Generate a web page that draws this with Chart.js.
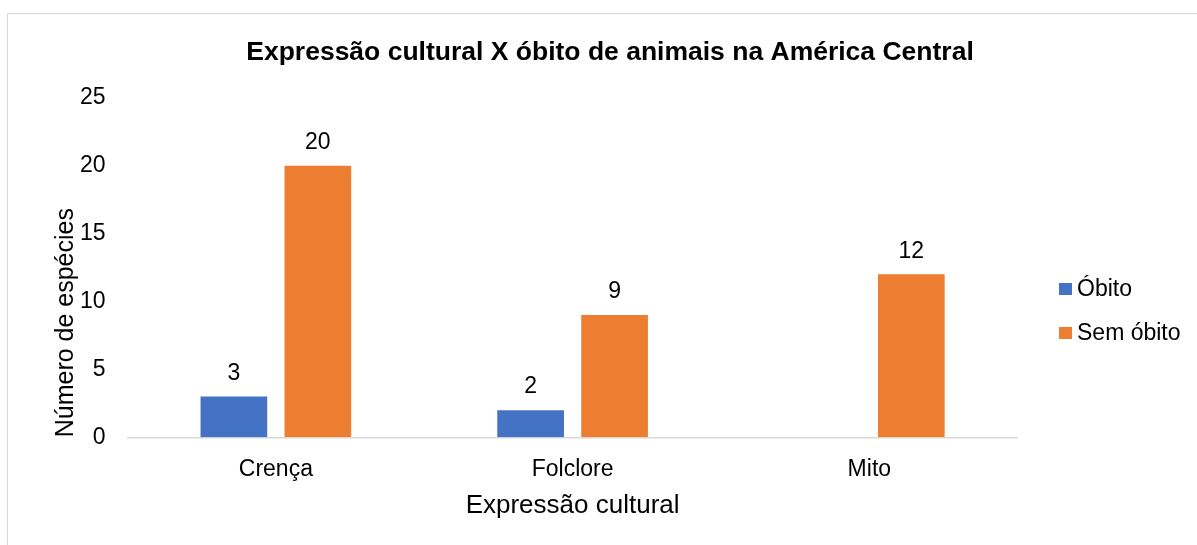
<!DOCTYPE html>
<html lang="pt">
<head>
<meta charset="utf-8">
<title>Expressão cultural X óbito de animais na América Central</title>
<script src="https://cdn.jsdelivr.net/npm/chart.js@4/dist/chart.umd.min.js"></script>
<style>
    html, body { margin: 0; padding: 0; background: #fff; overflow: hidden; }
    .frame {
        position: absolute; left: 7px; top: 13px;
        width: 1400px; height: 700px;
        border: 1px solid #d9d9d9;
    }
    #chart { position: absolute; left: 0; top: 0; }
</style>
</head>
<body>
<div class="frame"></div>
<canvas id="chart" width="1220" height="545"></canvas>
<script>
// --- Données ---
const categories = ['Crença', 'Folclore', 'Mito'];
const obito = [3, 2, null];
const semObito = [20, 9, 12];
const yTicks = [0, 5, 10, 15, 20, 25];

const FONT = '"Liberation Sans", Arial, sans-serif';
const TEXT_COLOR = '#000';
const COLORS = { obito: '#4472C4', semObito: '#ED7D31' };

// Valeurs affichées au-dessus des barres
const valueLabels = {
    id: 'valueLabels',
    afterDatasetsDraw(chart) {
        const ctx = chart.ctx;
        ctx.save();
        ctx.font = `23px ${FONT}`;
        ctx.fillStyle = TEXT_COLOR;
        ctx.textAlign = 'center';
        ctx.textBaseline = 'middle';
        chart.data.datasets.forEach((ds, i) => {
            chart.getDatasetMeta(i).data.forEach((bar, j) => {
                const v = ds.data[j];
                if (v === null || v === undefined) return;
                ctx.fillText(String(v), bar.x, bar.y - 23);
            });
        });
        ctx.restore();
    }
};

// Légende à droite, dessinée à la main
const sideLegend = {
    id: 'sideLegend',
    afterDraw(chart) {
        const ctx = chart.ctx;
        const rows = [289, 333];
        ctx.save();
        ctx.font = `23px ${FONT}`;
        ctx.textBaseline = 'middle';
        ctx.textAlign = 'left';
        chart.data.datasets.forEach((ds, i) => {
            const y = rows[i];
            ctx.fillStyle = ds.backgroundColor;
            ctx.fillRect(1059, y - 6, 13, 12);
            ctx.fillStyle = TEXT_COLOR;
            ctx.fillText(ds.label, 1077, y + 1);
        });
        ctx.restore();
    }
};

const ctx = document.getElementById('chart').getContext('2d');
new Chart(ctx, {
    type: 'bar',
    data: {
        labels: categories,
        datasets: [
            { label: 'Óbito', data: obito, backgroundColor: COLORS.obito },
            { label: 'Sem óbito', data: semObito, backgroundColor: COLORS.semObito }
        ]
    },
    options: {
        responsive: false,
        animation: false,
        layout: { padding: 0 },
        categoryPercentage: 0.566,
        barPercentage: 0.794,
        plugins: {
            legend: { display: false },
            tooltip: { enabled: false },
            title: {
                display: true,
                text: 'Expressão cultural X óbito de animais na América Central',
                color: TEXT_COLOR,
                font: { family: FONT, size: 26.5, weight: 'bold' },
                padding: { top: 37, bottom: 29 }
            }
        },
        scales: {
            x: {
                grid: { display: false },
                border: { display: true, color: '#d9d9d9', width: 1.5 },
                ticks: { color: TEXT_COLOR, font: { family: FONT, size: 23 }, padding: 11 },
                title: {
                    display: true,
                    text: 'Expressão cultural',
                    color: TEXT_COLOR,
                    font: { family: FONT, size: 26 },
                    padding: { top: 0, bottom: 24 }
                },
                afterFit(scale) { scale.height = 545 - 437.3; }
            },
            y: {
                min: 0,
                max: 25,
                grid: { display: false },
                border: { display: false },
                afterBuildTicks(scale) { scale.ticks = yTicks.map(v => ({ value: v })); },
                ticks: { color: TEXT_COLOR, font: { family: FONT, size: 23 }, padding: 14 },
                title: {
                    display: true,
                    text: 'Número de espécies',
                    align: 'start',
                    color: TEXT_COLOR,
                    font: { family: FONT, size: 25 },
                    padding: { top: 51, bottom: 0 }
                },
                afterFit(scale) { scale.width = 127.5; }
            },
            // axe vide à droite : réserve la place de la légende
            legendSpace: {
                type: 'linear',
                position: 'right',
                display: true,
                grid: { display: false },
                border: { display: false },
                ticks: { display: false },
                afterFit(scale) { scale.width = 1220 - 1017.7; }
            }
        }
    },
    plugins: [valueLabels, sideLegend]
});
</script>
</body>
</html>
